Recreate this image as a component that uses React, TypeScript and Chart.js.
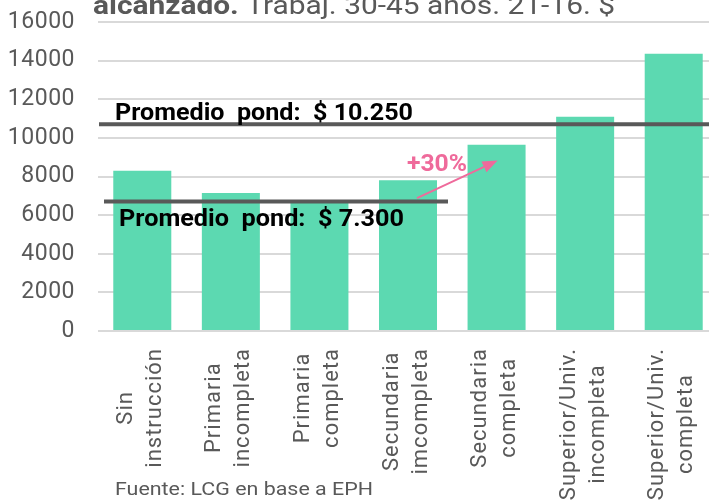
import React, { useEffect, useRef } from 'react';
import { Chart, registerables } from 'chart.js';

Chart.register(...registerables);

const categories: string[][] = [
  ['Sin', 'instrucción'],
  ['Primaria', 'incompleta'],
  ['Primaria', 'completa'],
  ['Secundaria', 'imcompleta'],
  ['Secundaria', 'completa'],
  ['Superior/Univ.', 'incompleta'],
  ['Superior/Univ.', 'completa'],
];
const values: number[] = [8300, 7150, 6700, 7800, 9650, 11100, 14350];
const yMin = 0;
const yMax = 16000;
const yStep = 2000;

const avgHighValue = 10700;
const avgHighLabel = 'Promedio  pond:  $ 10.250';
const avgLowValue = 6700;
const avgLowLabel = 'Promedio  pond:  $ 7.300';
const avgLowLastCategory = 3;

const growthLabel = '+30%';
const growthFromCategory = 3;
const growthToCategory = 4;
const growthFromValue = 6880;
const growthToValue = 8830;

const titleBold = 'alcanzado.';
const titleRest = ' Trabaj. 30-45 años. 21-16. $';
const sourceText = 'Fuente: LCG en base a EPH';

const GRAY = '#595959';
const PINK = '#EF6A9B';
const BAR = '#5CD9B1';

function fitText(ctx: CanvasRenderingContext2D, text: string, x: number, y: number, target: number) {
  const w = ctx.measureText(text).width;
  ctx.save();
  ctx.translate(x, y);
  ctx.scale(target / w, 1);
  ctx.fillText(text, 0, 0);
  ctx.restore();
}

function setSpacing(ctx: any, v: string) {
  try { ctx.letterSpacing = v; } catch (e) {}
}

const overlayPlugin = {
  id: 'overlay',
  beforeDraw(chart: any) {
    setSpacing(chart.ctx, '0.5px');
  },
  afterDraw(chart: any) {
    const ctx: CanvasRenderingContext2D = chart.ctx;
    const x = chart.scales.x;
    const y = chart.scales.y;
    const area = chart.chartArea;
    ctx.save();
    setSpacing(ctx, '0px');

    // category labels (rotated, lines centred, block top-aligned under the axis)
    ctx.fillStyle = GRAY;
    ctx.font = '22px Roboto';
    setSpacing(ctx, '1px');
    ctx.textAlign = 'center';
    ctx.textBaseline = 'middle';
    const lineGap = 29;
    const top = area.bottom + 17;
    categories.forEach((lines, i) => {
      const cx = x.getPixelForValue(i) - 1.5;
      const maxW = Math.max(...lines.map((l) => ctx.measureText(l).width));
      lines.forEach((line, j) => {
        const off = (j - (lines.length - 1) / 2) * lineGap;
        ctx.save();
        ctx.translate(cx + off, top + maxW / 2);
        ctx.rotate(-Math.PI / 2);
        ctx.fillText(line, 0, 0);
        ctx.restore();
      });
    });
    setSpacing(ctx, '0px');

    // average lines
    ctx.strokeStyle = GRAY;
    ctx.lineWidth = 4;
    ctx.beginPath();
    const yh = y.getPixelForValue(avgHighValue);
    ctx.moveTo(area.left + 1, yh);
    ctx.lineTo(area.right, yh);
    ctx.stroke();
    const yl = y.getPixelForValue(avgLowValue);
    ctx.beginPath();
    ctx.moveTo(area.left + 6, yl);
    ctx.lineTo(x.getPixelForValue(avgLowLastCategory) + 40, yl);
    ctx.stroke();

    // labels
    ctx.fillStyle = '#000';
    ctx.font = 'bold 23px Roboto';
    ctx.textBaseline = 'middle';
    ctx.textAlign = 'left';
    fitText(ctx, avgHighLabel, area.left + 17, yh - 10, 298);
    fitText(ctx, avgLowLabel, area.left + 21, yl + 19, 285);

    // arrow
    const ax0 = x.getPixelForValue(growthFromCategory) + 9;
    const ay0 = y.getPixelForValue(growthFromValue);
    const ax1 = x.getPixelForValue(growthToCategory) + 1;
    const ay1 = y.getPixelForValue(growthToValue);
    const ang = Math.atan2(ay1 - ay0, ax1 - ax0);
    const hl = 15, hw = 6;
    const bx = ax1 - hl * Math.cos(ang);
    const by = ay1 - hl * Math.sin(ang);
    ctx.strokeStyle = PINK;
    ctx.fillStyle = PINK;
    ctx.lineWidth = 2;
    ctx.beginPath();
    ctx.moveTo(ax0, ay0);
    ctx.lineTo(bx, by);
    ctx.stroke();
    ctx.beginPath();
    ctx.moveTo(ax1, ay1);
    ctx.lineTo(bx + hw * Math.sin(ang), by - hw * Math.cos(ang));
    ctx.lineTo(bx - hw * Math.sin(ang), by + hw * Math.cos(ang));
    ctx.closePath();
    ctx.fill();
    ctx.font = 'bold 23px Roboto';
    ctx.textAlign = 'left';
    fitText(ctx, growthLabel, ax0 - 10, ay1 + 5, 60);

    // title (cut at top)
    ctx.fillStyle = GRAY;
    ctx.textBaseline = 'alphabetic';
    ctx.font = 'bold 26px Roboto';
    const wb = ctx.measureText(titleBold).width;
    ctx.font = '26px Roboto';
    const wr = ctx.measureText(titleRest).width;
    const total = 522;
    const s = total / (wb + wr);
    ctx.save();
    ctx.translate(93, 14);
    ctx.scale(s, 1);
    ctx.font = 'bold 26px Roboto';
    ctx.fillText(titleBold, 0, 0);
    ctx.font = '26px Roboto';
    ctx.fillText(titleRest, wb, 0);
    ctx.restore();

    // source
    ctx.font = '19px Roboto';
    ctx.fillStyle = GRAY;
    fitText(ctx, sourceText, 115, 494.5, 258);
    ctx.restore();
  },
};

export default function App() {
  const ref = useRef<HTMLCanvasElement | null>(null);
  useEffect(() => {
    if (!ref.current) return;
    const chart = new Chart(ref.current, {
      type: 'bar',
      data: {
        labels: categories,
        datasets: [
          {
            data: values,
            backgroundColor: BAR,
            borderWidth: 0,
            barPercentage: 0.655,
            categoryPercentage: 1,
          },
        ],
      },
      options: {
        responsive: false,
        animation: false,
        devicePixelRatio: 1,
        layout: { autoPadding: false, padding: { top: 22, left: 0, right: 0, bottom: 0 } },
        plugins: { legend: { display: false }, tooltip: { enabled: false }, title: { display: false } },
        scales: {
          x: {
            grid: { display: false, drawTicks: false },
            border: { display: false },
            ticks: { display: false },
            afterFit: (scale: any) => {
              scale.height = 170;
              scale.paddingLeft = 0;
              scale.paddingRight = 0;
              scale.paddingTop = 0;
              scale.paddingBottom = 0;
            },
          },
          y: {
            min: yMin,
            max: yMax,
            grid: { color: '#D9D9D9', lineWidth: 2, drawTicks: false },
            border: { display: false },
            ticks: {
              stepSize: yStep,
              color: GRAY,
              font: { family: 'Roboto', size: 23 },
              padding: 23,
              callback: (v: any) => String(v),
            },
            afterFit: (scale: any) => {
              scale.width = 98;
              scale.paddingTop = 0;
              scale.paddingBottom = 0;
              scale.paddingLeft = 0;
              scale.paddingRight = 0;
            },
          },
        },
      },
      plugins: [overlayPlugin],
    } as any);
    return () => chart.destroy();
  }, []);
  return (
    <div style={{ position: 'fixed', left: 0, top: 0, width: 709, height: 501, overflow: 'hidden', background: '#fff' }}>
      <canvas ref={ref} width={718} height={501} style={{ display: 'block' }} />
    </div>
  );
}
